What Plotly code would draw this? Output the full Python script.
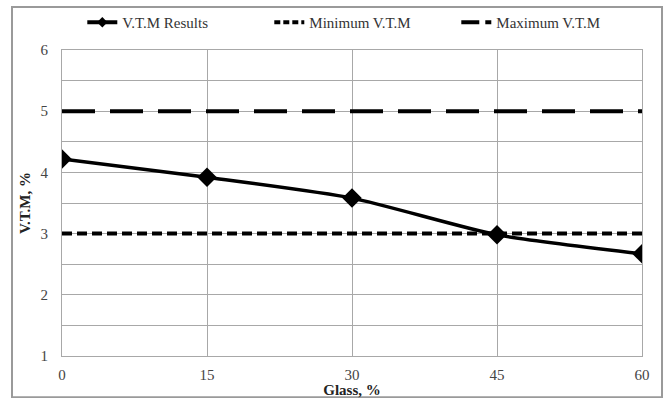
import plotly.graph_objects as go

# Glass content (%) and measured voids in total mix (%)
glass_pct = [0, 15, 30, 45, 60]
vtm_results = [4.22, 3.92, 3.58, 2.98, 2.67]
vtm_min = [3, 3, 3, 3, 3]
vtm_max = [5, 5, 5, 5, 5]

x_ticks = [0, 15, 30, 45, 60]
y_ticks = [1, 2, 3, 4, 5, 6]

FONT = "Liberation Serif, Times New Roman, serif"

fig = go.Figure()

fig.add_trace(go.Scatter(
    x=glass_pct, y=vtm_results, name="V.T.M Results", showlegend=False,
    mode="lines+markers", line=dict(color="black", width=3.5, shape="spline", smoothing=0.6),
    marker=dict(symbol="diamond", size=15, color="black"),
))
fig.add_trace(go.Scatter(
    x=glass_pct, y=vtm_min, name="Minimum V.T.M", showlegend=False,
    mode="lines", line=dict(color="black", width=4, dash="10px,5px"),
))
fig.add_trace(go.Scatter(
    x=glass_pct, y=vtm_max, name="Maximum V.T.M", showlegend=False,
    mode="lines", line=dict(color="black", width=4, dash="33px,15px"),
))

# legend entries (short symbols suited to the legend box)
fig.add_trace(go.Scatter(
    x=[None], y=[None], name="V.T.M Results",
    mode="lines+markers", line=dict(color="black", width=4),
    marker=dict(symbol="diamond", size=8, color="black"),
))
fig.add_trace(go.Scatter(
    x=[None], y=[None], name="Minimum V.T.M",
    mode="lines", line=dict(color="black", width=4, dash="6px,3px"),
))
fig.add_trace(go.Scatter(
    x=[None], y=[None], name="Maximum V.T.M",
    mode="lines", line=dict(color="black", width=4, dash="18px,6px"),
))

grid = "#a8a8a8"
tick_font = dict(family=FONT, size=15, color="#444")
title_font = dict(family=FONT, size=15, color="#222")

fig.update_xaxes(
    range=[0, 60], tickvals=x_ticks, ticktext=[str(v) for v in x_ticks],
    showgrid=True, gridcolor=grid, gridwidth=1, zeroline=False,
    showline=True, linecolor=grid, mirror=True, ticks="",
    ticklabelstandoff=5, tickfont=tick_font, automargin=False,
    title=dict(text="<b>Glass, %</b>", font=title_font, standoff=1),
)
fig.update_yaxes(
    range=[1, 6], tickvals=y_ticks, ticktext=[str(v) for v in y_ticks],
    showgrid=True, gridcolor=grid, gridwidth=1, zeroline=False,
    minor=dict(dtick=0.5, showgrid=True, gridcolor=grid, gridwidth=1),
    showline=True, linecolor=grid, mirror=True, ticks="",
    ticklabelstandoff=10, tickfont=tick_font, automargin=False,
    title=dict(text="<b>V.T.M, %</b>", font=title_font, standoff=6),
)

# outer chart frame
fig.add_shape(type="rect", xref="paper", yref="paper",
              x0=-0.0862, x1=1.0345, y0=-0.135, y1=1.1405,
              line=dict(color="#9a9a9a", width=2), layer="above")

fig.update_layout(
    width=666, height=398,
    margin=dict(l=62, r=24, t=50, b=42, autoexpand=False),
    paper_bgcolor="white", plot_bgcolor="white",
    showlegend=True,
    legend=dict(orientation="h", x=0.035, xanchor="left", y=1.09, yanchor="middle",
                font=dict(family=FONT, size=15, color="#333"),
                entrywidth=142, entrywidthmode="pixels", traceorder="normal",
                bgcolor="rgba(0,0,0,0)"),
    font=dict(family=FONT),
)

fig.write_html("out.html")
